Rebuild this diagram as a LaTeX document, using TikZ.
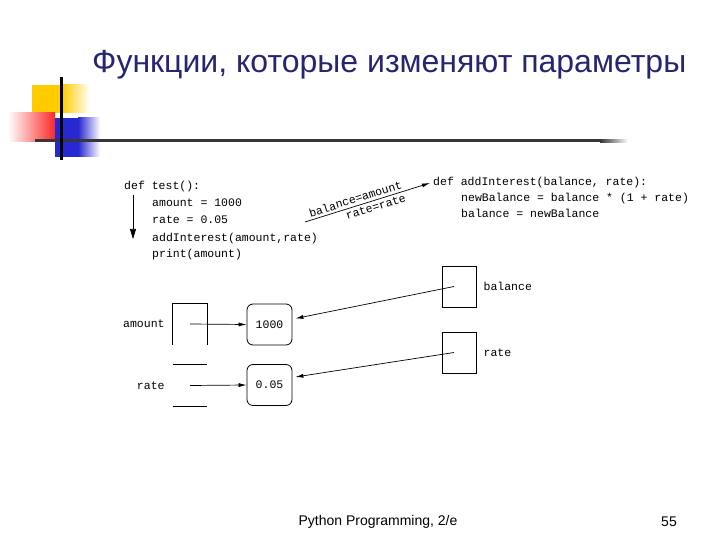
\documentclass[tikz,border=0pt]{standalone}
\usepackage{fontspec}
\setmainfont{Liberation Sans}
\setmonofont{Liberation Mono}
\usetikzlibrary{arrows.meta,positioning}
\definecolor{titleblue}{RGB}{38,38,112}
\definecolor{rulegray}{RGB}{55,55,55}
\definecolor{decoyellow}{RGB}{255,204,0}
\definecolor{decored}{RGB}{250,40,40}
\definecolor{decoblue}{RGB}{40,40,210}

\begin{document}
\begin{tikzpicture}[x=1pt,y=-1pt,
    code/.style={anchor=base west, inner sep=0pt, font=\ttfamily\fontsize{11.5}{12}\selectfont},
    varbox/.style={minimum width=34pt, minimum height=41pt, inner sep=0pt},
    valbox/.style={draw, line width=0.8pt, rounded corners=6pt, minimum width=45pt, minimum height=41pt, inner sep=0pt, font=\ttfamily\fontsize{11.5}{12}\selectfont},
    varname/.style={inner sep=0pt, font=\ttfamily\fontsize{11.5}{12}\selectfont},
    ptr/.style={-{Latex[length=8pt,width=4pt]}, line width=0.7pt}]
    \useasboundingbox (0,0) rectangle (720,540);
    % slide decoration
    \fill[decoyellow] (32,85) rectangle (62,113);
    \shade[left color=decoyellow, right color=white] (62,85) rectangle (90,113);
    \shade[left color=white, right color=decored] (8,113) rectangle (55,142);
    \fill[decoblue] (55,118) rectangle (78,157);
    \shade[left color=decoblue, right color=white] (78,118) rectangle (100,157);
    \draw[rulegray, line width=3pt] (35,141) -- (600,141);
    \shade[left color=rulegray, right color=white] (600,139.5) rectangle (628,142.5);
    \draw[black, line width=3pt] (61,77) -- (61,160);
    \node[anchor=west, inner sep=0pt, text=titleblue, font=\fontsize{32}{38}\selectfont] (title) at (92,65) {Функции, которые изменяют параметры};

    % caller
    \node[code] (deftest) at (124,190) {def test():};
    \node[code] (amtline) at (152,207) {amount = 1000};
    \node[code] (rateline) at (152,224) {rate = 0.05};
    \node[code] (callline) at (152,241) {addInterest(amount,rate)};
    \node[code] (printline) at (152,257) {print(amount)};
    \coordinate (flowtop) at (133,195);
    \coordinate (flowend) at (133,239);
    \draw[-{Triangle[length=10pt,width=6pt]}, line width=0.6pt] (flowtop) -- (flowend);

    % callee
    \node[code] (defadd) at (433,186) {def addInterest(balance, rate):};
    \node[code] (newbal) at (461,202) {newBalance = balance * (1 + rate)};
    \node[code] (balline) at (461,218) {balance = newBalance};
    \coordinate (callstart) at (305,222);
    \draw[ptr] (callstart) -- ([xshift=-3pt]defadd.west)
        node[sloped, above=2.5pt, pos=0.42, inner sep=0pt, font=\ttfamily\fontsize{11.5}{12}\selectfont] (passbal) {balance=amount}
        node[sloped, below=2.5pt, pos=0.55, inner sep=0pt, font=\ttfamily\fontsize{11.5}{12}\selectfont] (passrate) {rate=rate};

    % variables of test
    \node[varbox] (amtbox) at (190,324) {};
    \node[varbox] (ratebox) at (190,385.5) {};
    \draw[line width=0.8pt] (amtbox.south west) -- (amtbox.north west) -- (amtbox.north east) -- (amtbox.south east);
    \draw[line width=0.8pt] (ratebox.north west) -- (ratebox.north east);
    \draw[line width=0.8pt] (ratebox.south west) -- (ratebox.south east);
    \node[varname, left=8pt of amtbox] (amtname) {amount};
    \node[varname, left=8pt of ratebox] (ratename) {rate};

    % values
    \node[valbox] (val1) at (269.5,324.5) {1000};
    \node[valbox] (val2) at (269.5,385) {0.05};
    \draw[ptr] (amtbox.center) -- (val1.west);
    \draw[ptr] (ratebox.center) -- (val2.west);

    % variables of addInterest
    \node[varbox, draw, line width=0.8pt] (balbox) at (459,286.5) {};
    \node[varbox, draw, line width=0.8pt] (rbox) at (459,352.5) {};
    \node[varname, right=7pt of balbox] (balname) {balance};
    \node[varname, right=7pt of rbox] (rname) {rate};
    \draw[ptr] ([xshift=-5pt]balbox.center) -- ([xshift=3pt,yshift=6pt]val1.east);
    \draw[ptr] ([xshift=-5pt]rbox.center) -- ([xshift=3pt,yshift=8pt]val2.east);

    % footer
    \node[font=\fontsize{14}{16}\selectfont] (foot) at (378,522) {Python Programming, 2/e};
    \node[font=\fontsize{14}{16}\selectfont] (pagenum) at (669,522) {55};
\end{tikzpicture}
\end{document}
